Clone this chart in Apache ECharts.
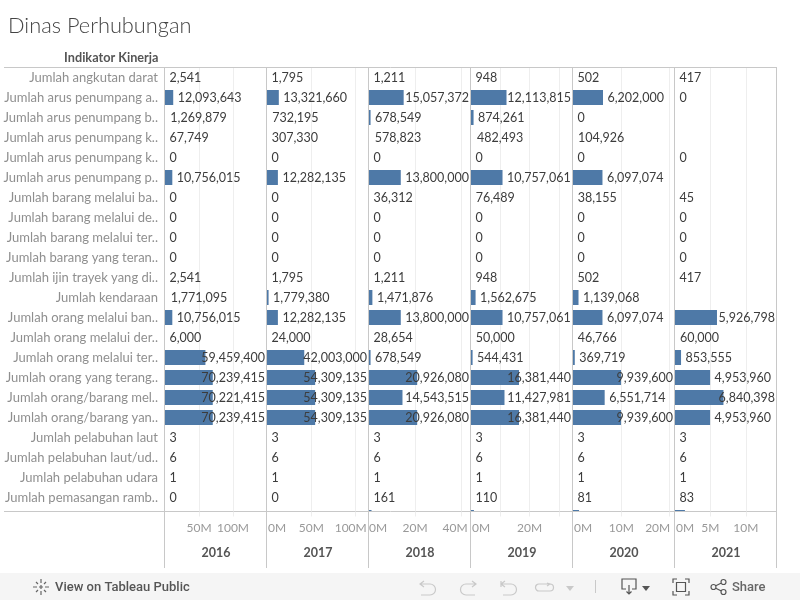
<!DOCTYPE html>
<html><head><meta charset="utf-8">
<style>html,body{margin:0;padding:0;background:#fff}#c{width:800px;height:600px}</style>
<script src="https://cdn.jsdelivr.net/npm/echarts@6/dist/echarts.min.js"></script>
</head><body><div id="c"></div>
<script>
const title = "Dinas Perhubungan";
const headerLabel = "Indikator Kinerja";
const years = ["2016","2017","2018","2019","2020","2021"];
const categories = [
 "Jumlah angkutan darat","Jumlah arus penumpang a..","Jumlah arus penumpang b..","Jumlah arus penumpang k..",
 "Jumlah arus penumpang k..","Jumlah arus penumpang p..","Jumlah barang melalui ba..","Jumlah barang melalui de..",
 "Jumlah barang melalui ter..","Jumlah barang yang teran..","Jumlah ijin trayek yang di..","Jumlah kendaraan",
 "Jumlah orang melalui ban..","Jumlah orang melalui der..","Jumlah orang melalui ter..","Jumlah orang yang terang..",
 "Jumlah orang/barang mel..","Jumlah orang/barang yan..","Jumlah pelabuhan laut","Jumlah pelabuhan laut/ud..",
 "Jumlah pelabuhan udara","Jumlah pemasangan ramb..",""];
const v2016 = [2541,12093643,1269879,67749,0,10756015,0,0,0,0,2541,1771095,10756015,6000,59459400,70239415,70221415,70239415,3,6,1,0,null];
const v2017 = [1795,13321660,732195,307330,0,12282135,0,0,0,0,1795,1779380,12282135,24000,42003000,54309135,54309135,54309135,3,6,1,0,null];
const v2018 = [1211,15057372,678549,578823,0,13800000,36312,0,0,0,1211,1471876,13800000,28654,678549,20926080,14543515,20926080,3,6,1,161,1100000];
const v2019 = [948,12113815,874261,482493,0,10757061,76489,0,0,0,948,1562675,10757061,50000,544431,16381440,11427981,16381440,3,6,1,110,1000000];
const v2020 = [502,6202000,0,104926,0,6097074,38155,0,0,0,502,1139068,6097074,46766,369719,9939600,6551714,9939600,3,6,1,81,1250000];
const v2021 = [417,0,null,null,0,null,45,0,0,0,417,null,5926798,60000,853555,4953960,6840398,4953960,3,6,1,83,1400000];
const values = [v2016,v2017,v2018,v2019,v2020,v2021];
const axisMax = [150e6,115e6,44.3e6,34.8e6,21.1e6,14.4e6];
const gridStep = [50e6,50e6,20e6,10e6,10e6,5e6];
const tickLabels = [[50e6,100e6],[0,50e6,100e6],[0,20e6,40e6],[0,20e6],[0,10e6,20e6],[0,5e6,10e6]];

const FONT = "Lato";
const panelLeft = 165, panelW = 102, rowTop = 67.5, rowH = 20, frameBottom = 511.5;
const labelShift = {"1-0":10,"1-100000000":-5,"2-0":9,"2-40000000":-6,"3-0":10,"4-0":10,"4-20000000":-12,"5-0":10};
const grids = [], xAxes = [], yAxes = [], series = [];
const rich = {};
Object.values(labelShift).forEach(s=>{
  rich["s"+(s<0?"m":"p")+Math.abs(s)] = {fontFamily:FONT,fontSize:12,color:"#999",
    padding:s>0?[0,0,0,2*s]:[0,-2*s,0,0]};
});

years.forEach((y,i)=>{
  const left = panelLeft + i*panelW;
  grids.push({left, top:rowTop, width:panelW, height:rowH*categories.length, outerBoundsMode:"none"});
  xAxes.push({gridIndex:i,type:"value",min:0,max:axisMax[i],interval:gridStep[i],
    axisLine:{show:false},axisTick:{show:false},axisLabel:{show:false},
    splitLine:{show:true,showMinLine:false,showMaxLine:false,lineStyle:{color:"#eeeeee",width:1}}});
  yAxes.push({gridIndex:i,type:"category",inverse:true,data:categories,
    axisLine:{show:false},axisTick:{show:false},splitLine:{show:false},
    axisLabel:{show:i===0,interval:0,color:"#8f8f8f",fontFamily:FONT,fontSize:13,margin:7,align:"right"}});
  series.push({type:"bar",xAxisIndex:i,yAxisIndex:i,data:values[i],barWidth:15,
    itemStyle:{color:p=>p.value/axisMax[i]*panelW<1.45?"transparent":"#4e79a7"},silent:true,animation:false,
    label:{show:true,position:"right",distance:4.5,fontFamily:FONT,fontSize:12.5,color:"#3c3c3c",textBorderWidth:0,
      formatter:p=>p.dataIndex>=categories.length-1?"":p.value.toLocaleString("en-US")},
    labelLayout:p=>{
      const limit = left+panelW-2;
      const lr = p.labelRect;
      return lr.x+lr.width>limit ? {dx:limit-lr.width-lr.x} : {};
    }});
});
years.forEach((y,i)=>{
  const left = panelLeft + i*panelW, g = years.length+i;
  grids.push({left, top:frameBottom, width:panelW, height:5, outerBoundsMode:"none"});
  xAxes.push({gridIndex:g,type:"value",min:0,max:axisMax[i],interval:gridStep[i],z:100,
    name:y,nameLocation:"middle",nameGap:30,
    nameTextStyle:{fontFamily:FONT,fontSize:12.5,color:"#555555",fontWeight:"bold"},
    axisLine:{show:false},axisTick:{show:false},
    splitLine:{show:true,showMinLine:false,showMaxLine:false,lineStyle:{color:"#eeeeee",width:1}},
    axisLabel:{show:true,margin:6,color:"#999",fontFamily:FONT,fontSize:12,rich,
      showMinLabel:true,showMaxLabel:true,
      formatter:v=>{
        if(!tickLabels[i].includes(v)) return "";
        const t=(v/1e6)+"M", s=labelShift[i+"-"+v]||0;
        return s?`{s${s<0?"m":"p"}${Math.abs(s)}|${t}}`:t;
      }}});
  yAxes.push({gridIndex:g,type:"category",data:[""],show:false});
});

const chrome = [];
const C = "#c8c8c8";
const line=(x1,y1,x2,y2,color=C)=>({type:"line",z:50,silent:true,shape:{x1,y1,x2,y2},style:{stroke:color,lineWidth:1}});
let iconId=0;
const icon=(d,x,y,stroke,fill)=>{
  const name="icon"+(iconId++);
  echarts.graphic.registerShape(name,echarts.graphic.extendPath(d,{}));
  return {type:name,z:60,silent:true,x,y,style:{stroke:stroke||"none",fill:fill||"none",lineWidth:1.2}};
};
chrome.push({type:"rect",z:40,silent:true,shape:{x:0,y:512,width:800,height:61},style:{fill:"#fff"}});
chrome.push(line(4,67.5,777,67.5), line(4,511.5,777,511.5));
for(let i=0;i<=years.length;i++){const x=164.5+i*panelW; chrome.push(line(x,67.5,x,568));}
chrome.push({type:"rect",z:45,silent:true,shape:{x:0,y:573,width:800,height:27},style:{fill:"#f5f5f5"}});
const txt=(t,x,y,o)=>({type:"text",z:60,silent:true,x,y,style:Object.assign({text:t,fontFamily:FONT,textVerticalAlign:"middle"},o)});
chrome.push(txt(title,8,26,{fontSize:21.8,fontWeight:300,fill:"#444",fontFamily:"Lato"}));
chrome.push(txt(headerLabel,158.5,58,{fontSize:12.7,fontWeight:"bold",fill:"#555",textAlign:"right"}));
chrome.push(txt("View on Tableau Public",55,587.5,{fontSize:13,fontWeight:500,fill:"#555",fontFamily:"Roboto"}));
chrome.push(txt("Share",732,587.5,{fontSize:13,fontWeight:500,fill:"#666",fontFamily:"Roboto"}));
const gray="#c9c9c9",dark="#555";
chrome.push(icon("M8 0 V4 M8 12 V16 M0 8 H4 M12 8 H16 M3 3 L5 5 M13 3 L11 5 M3 13 L5 11 M13 13 L11 11 M8 6 V10 M6 8 H10",33,579,"#666"));
chrome.push(icon("M4 0 L0 3 L4 6 M0 3 H10 A5.5 5.5 0 0 1 10 14 H1",420,581,gray));
chrome.push(icon("M12 0 L16 3 L12 6 M16 3 H6 A5.5 5.5 0 0 0 6 14 H15",460,581,gray));
chrome.push(icon("M1 0 V6 M1 3 H11 A5.5 5.5 0 0 1 11 14 H3 M5 0 L1 3 L5 6",500,581,gray));
chrome.push(icon("M3 1 H14 A3.5 3.5 0 0 1 14 8 H3 A3.5 3.5 0 0 1 3 1 M11 0 L14 1 L11 3",536,583,gray));
chrome.push(icon("M0 0 H8 L4 5 Z",566,586,null,gray));
chrome.push(line(595.5,580,595.5,593,"#c9c9c9"));
chrome.push(icon("M4 10 H0 V0 H14 V10 H10 M7 6 V15 M4.5 12.5 L7 15 L9.5 12.5",622,579,dark));
chrome.push(icon("M0 0 H8 L4 5 Z",642,586,null,dark));
chrome.push(icon("M0 4 V0 H4 M12 0 H16 V4 M16 12 V16 H12 M4 16 H0 V12 M3.5 3.5 H12.5 V12.5 H3.5 Z",673,579,dark));
chrome.push(icon("M4.8 6.8 L10.8 3.8 M4.8 9.2 L10.8 12.2 M0 8 A2.5 2.5 0 1 0 5 8 A2.5 2.5 0 1 0 0 8 M10 3 A2.5 2.5 0 1 0 15 3 A2.5 2.5 0 1 0 10 3 M10 13 A2.5 2.5 0 1 0 15 13 A2.5 2.5 0 1 0 10 13",711,579,dark));

const chart = echarts.init(document.getElementById("c"),null,{renderer:"canvas"});
chart.setOption({animation:false,backgroundColor:"#fff",grid:grids,xAxis:xAxes,yAxis:yAxes,series,graphic:{elements:chrome}});
</script></body></html>
